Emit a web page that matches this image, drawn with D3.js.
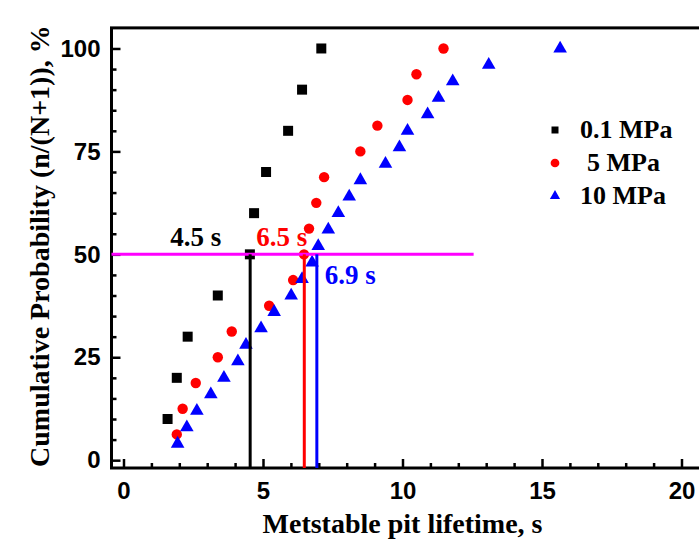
<!DOCTYPE html>
<html>
<head>
<meta charset="utf-8">
<script src="https://cdn.jsdelivr.net/npm/d3@7"></script>
<style>
  body { margin: 0; background: #fff; }
  svg { display: block; }
</style>
</head>
<body>
<div id="chart"></div>
<script>
// Data
const series = ["0.1 MPa", "5 MPa", "10 MPa"];

const lifetime01 = [1.58, 1.91, 2.30, 3.38, 4.53, 4.68, 5.11, 5.90, 6.40, 7.09];
const prob01 = [10, 20, 30, 40, 50, 60, 70, 80, 90, 100];

const lifetime5 = [1.91, 2.12, 2.59, 3.38, 3.88, 5.22, 6.08, 6.47, 6.65, 6.91, 7.19, 8.49, 9.10, 10.18, 10.50, 11.47];
const prob5 = [6.25, 12.5, 18.75, 25, 31.25, 37.5, 43.75, 50, 56.25, 62.5, 68.75, 75, 81.25, 87.5, 93.75, 100];

const lifetime10 = [1.94, 2.27, 2.63, 3.13, 3.60, 4.10, 4.39, 4.93, 5.40, 6.01, 6.40, 6.76, 6.98,
                    7.34, 7.70, 8.09, 8.49, 9.39, 9.89, 10.18, 10.90, 11.29, 11.80, 13.09, 15.65];
const prob10 = [4, 8, 12, 16, 20, 24, 28, 32, 36, 40, 44, 48, 52, 56, 60, 64, 68, 72, 76, 80, 84, 88, 92, 96, 100];

// median lifetimes (50 % line)
const medianX = [4.54, 6.48, 6.93];
const medianLabels = ["4.5 s", "6.5 s", "6.9 s"];
const medianLevel = 50;
const medianLineEnd = 12.55;

const xTicks = [0, 5, 10, 15, 20];
const yTicks = [0, 25, 50, 75, 100];

const W = 699, H = 542;
const colors = ["#000000", "#ff0000", "#0000ff"];
const serif = "'Liberation Serif', 'Times New Roman', serif";
const sans = "'Liberation Sans', Arial, sans-serif";

const svg = d3.select("#chart")
    .append("svg")
    .attr("width", W)
    .attr("height", H);

const x = d3.scaleLinear()
    .domain([-0.43, 21])
    .range([111.5, 111.5 + 21.43 * 27.9]);

const y = d3.scaleLinear()
    .domain([-1.9, 105])
    .range([468, 468 - 106.9 * 4.117]);

// frame
svg.append("rect")
    .attr("x", x(-0.43))
    .attr("y", y(105))
    .attr("width", x(21) - x(-0.43))
    .attr("height", y(-1.9) - y(105))
    .attr("fill", "none")
    .attr("stroke", "#000")
    .attr("stroke-width", 3);

// minor ticks
const xMinor = d3.range(0, 21, 1).filter(v => v % 5 !== 0);
const yMinor = d3.range(0, 101, 5).filter(v => v % 25 !== 0);

svg.append("g")
    .attr("transform", `translate(0, ${y(-1.9)})`)
    .call(d3.axisBottom(x).tickValues(xMinor).tickSize(-5).tickFormat(""))
    .call(g => g.select(".domain").remove())
    .call(g => g.selectAll("line").attr("stroke-width", 2.5));

svg.append("g")
    .attr("transform", `translate(${x(-0.43)}, 0)`)
    .call(d3.axisLeft(y).tickValues(yMinor).tickSize(-5).tickFormat(""))
    .call(g => g.select(".domain").remove())
    .call(g => g.selectAll("line").attr("stroke-width", 2.5));

// major ticks + labels
svg.append("g")
    .attr("transform", `translate(0, ${y(-1.9)})`)
    .call(d3.axisBottom(x).tickValues(xTicks).tickSize(-9).tickPadding(14))
    .call(g => g.select(".domain").remove())
    .call(g => g.selectAll("line").attr("stroke-width", 2.5))
    .call(g => g.selectAll("text")
        .attr("fill", "#000")
        .style("font-family", sans)
        .style("font-weight", "bold")
        .style("font-size", "24px"));

svg.append("g")
    .attr("transform", `translate(${x(-0.43)}, 0)`)
    .call(d3.axisLeft(y).tickValues(yTicks).tickSize(-9).tickPadding(11))
    .call(g => g.select(".domain").remove())
    .call(g => g.selectAll("line").attr("stroke-width", 2.5))
    .call(g => g.selectAll("text")
        .attr("fill", "#000")
        .style("font-family", sans)
        .style("font-weight", "bold")
        .style("font-size", "24px"));

// axis titles
svg.append("text")
    .attr("x", x(10))
    .attr("y", 533)
    .attr("text-anchor", "middle")
    .style("font-family", serif)
    .style("font-weight", "bold")
    .style("font-size", "28px")
    .text("Metstable pit lifetime, s");

svg.append("text")
    .attr("transform", `translate(49, ${y(52)}) rotate(-90)`)
    .attr("text-anchor", "middle")
    .style("font-family", serif)
    .style("font-weight", "bold")
    .style("font-size", "28px")
    .text("Cumulative Probability (n/(N+1)), %");

// markers
const symbols = [d3.symbolSquare, d3.symbolCircle, d3.symbolTriangle];
const sizes = [100, 85, 80];
const dataSets = [
    d3.zip(lifetime01, prob01),
    d3.zip(lifetime5, prob5),
    d3.zip(lifetime10, prob10)
];

dataSets.forEach(function (pts, i) {
    svg.append("g")
        .selectAll("path")
        .data(pts)
        .enter()
        .append("path")
        .attr("d", d3.symbol().type(symbols[i]).size(sizes[i]))
        .attr("transform", d => `translate(${x(d[0])}, ${y(d[1])})`)
        .attr("fill", colors[i]);
});

// 50 % line and median drop lines
svg.append("line")
    .attr("x1", x(-0.43))
    .attr("x2", x(medianLineEnd))
    .attr("y1", y(medianLevel))
    .attr("y2", y(medianLevel))
    .attr("stroke", "#ff00ff")
    .attr("stroke-width", 3);

svg.append("g")
    .selectAll("line")
    .data(medianX)
    .enter()
    .append("line")
    .attr("x1", d => x(d))
    .attr("x2", d => x(d))
    .attr("y1", y(medianLevel))
    .attr("y2", y(-1.9))
    .attr("stroke", (d, i) => colors[i])
    .attr("stroke-width", 3);

// median labels
const labelPos = [
    { dx: -80, y: 246 },
    { dx: -48, y: 246 },
    { dx: 8, y: 284 }
];
svg.append("g")
    .selectAll("text")
    .data(medianLabels)
    .enter()
    .append("text")
    .attr("x", (d, i) => x(medianX[i]) + labelPos[i].dx)
    .attr("y", (d, i) => labelPos[i].y)
    .attr("fill", (d, i) => colors[i])
    .style("font-family", serif)
    .style("font-weight", "bold")
    .style("font-size", "27px")
    .text(d => d);

// legend
const legend = svg.append("g")
    .selectAll("g")
    .data(series)
    .enter()
    .append("g")
    .attr("transform", (d, i) => `translate(555, ${130 + i * 33})`);

const legendSizes = [49, 60, 45];
legend.append("path")
    .attr("d", (d, i) => d3.symbol().type(symbols[i]).size(legendSizes[i])())
    .attr("fill", (d, i) => colors[i]);

legend.append("text")
    .attr("x", (d, i) => i === 1 ? 32 : 25)
    .attr("y", 8)
    .style("font-family", serif)
    .style("font-weight", "bold")
    .style("font-size", "26px")
    .text(d => d);
</script>
</body>
</html>
